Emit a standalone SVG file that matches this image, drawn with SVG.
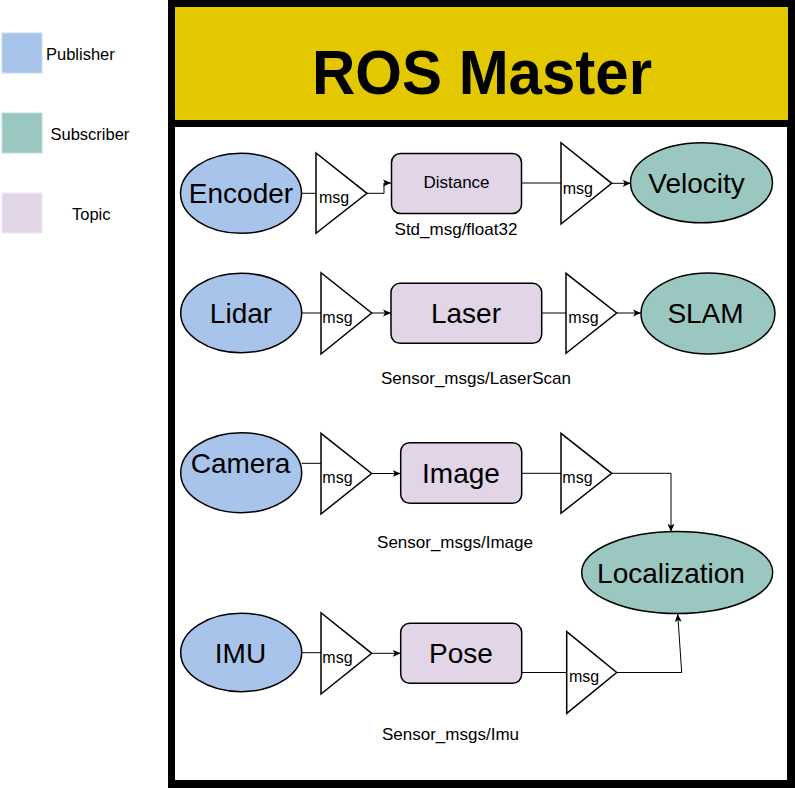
<svg xmlns="http://www.w3.org/2000/svg" width="795" height="788" viewBox="0 0 795 788">
<style>
text{font-family:"Liberation Sans",Arial,Helvetica,sans-serif;fill:#000}
.big{font-size:28px;text-anchor:middle}
.sm{font-size:17px;text-anchor:middle}
.msg{font-size:16px}
.leg{font-size:16.5px}
.pub{fill:#A9C4EB;stroke:#000;stroke-width:1.5}
.sub{fill:#9AC7BF;stroke:#000;stroke-width:1.5}
.top{fill:#E1D5E7;stroke:#000;stroke-width:1.5}
.tri{fill:#fff;stroke:#000;stroke-width:1.5}
.edge{fill:none;stroke:#000;stroke-width:1}
</style>
<defs>
<marker id="arr" markerUnits="userSpaceOnUse" markerWidth="9" markerHeight="8" refX="8" refY="4" orient="auto">
<path d="M0,0.5 L8,4 L0,7.5 L2,4 z" fill="#000"/>
</marker>
</defs>
<rect width="795" height="788" fill="#fff"/>

<g id="legend">
<g id="legend-publisher">
<rect x="2" y="33" width="40" height="40" fill="#A9C4EB" stroke="#C9DAF3" stroke-width="1"/>
<text class="leg" x="46" y="60">Publisher</text>
</g>
<g id="legend-subscriber">
<rect x="2" y="113" width="40" height="40" fill="#9AC7BF" stroke="#BFDCD6" stroke-width="1"/>
<text class="leg" x="50.5" y="140">Subscriber</text>
</g>
<g id="legend-topic">
<rect x="2" y="193" width="40" height="40" fill="#E1D5E7" stroke="#EEE6F1" stroke-width="1"/>
<text class="leg" x="72" y="220">Topic</text>
</g>
</g>

<g id="master">
<rect x="168" y="0" width="627" height="788" fill="#000"/>
<rect x="175" y="7" width="613" height="113" fill="#E3C800"/>
<rect x="175" y="127" width="612" height="653" fill="#fff"/>
<text x="482" y="94" font-size="63" font-weight="bold" text-anchor="middle" textLength="340" lengthAdjust="spacingAndGlyphs">ROS Master</text>
</g>

<g id="connectors">
<path class="edge" d="M296,193.3 H322"/>
<path class="edge" d="M367,193.3 H384 V183 H391" marker-end="url(#arr)"/>
<path class="edge" d="M521.7,183 H561"/>
<path class="edge" d="M611.7,183.3 H630.7" marker-end="url(#arr)"/>
<path class="edge" d="M301.7,313 H321"/>
<path class="edge" d="M371.7,313 H391" marker-end="url(#arr)"/>
<path class="edge" d="M541.7,313 H566"/>
<path class="edge" d="M616.7,313 H641" marker-end="url(#arr)"/>
<path class="edge" d="M301.7,463.3 H321"/>
<path class="edge" d="M371.7,473.5 H400.7" marker-end="url(#arr)"/>
<path class="edge" d="M521.7,473.3 H561"/>
<path class="edge" d="M611.7,473.3 H671 V531.7" marker-end="url(#arr)"/>
<path class="edge" d="M301.7,652.7 H321"/>
<path class="edge" d="M371.7,653.3 H400.7" marker-end="url(#arr)"/>
<path class="edge" d="M521.7,672.5 H566.7"/>
<path class="edge" d="M616.7,672.5 H681.7 L677.7,614" marker-end="url(#arr)"/>
</g>

<g id="encoder">
<ellipse class="pub" cx="241" cy="193.3" rx="60.5" ry="40"/>
<text class="big" x="241" y="203">Encoder</text>
</g>
<g id="msg-encoder">
<polygon class="tri" points="316,153 316,233.3 367,193.3"/>
<text class="msg" x="319" y="203.3">msg</text>
</g>
<g id="distance">
<rect class="top" x="391.5" y="153.5" width="130" height="60" rx="9"/>
<text class="sm" x="456.5" y="188">Distance</text>
<text class="sm" x="456" y="235">Std_msg/float32</text>
</g>
<g id="msg-distance">
<polygon class="tri" points="561,142.7 561,224 611.7,183.3"/>
<text class="msg" x="562.7" y="194">msg</text>
</g>
<g id="velocity">
<ellipse class="sub" cx="701.5" cy="182.7" rx="71" ry="40"/>
<text class="big" x="696.5" y="193.3">Velocity</text>
</g>

<g id="lidar">
<ellipse class="pub" cx="241.2" cy="313" rx="60.5" ry="39.7"/>
<text class="big" x="241" y="323.3">Lidar</text>
</g>
<g id="msg-lidar">
<polygon class="tri" points="321,272.7 321,354 371.7,313"/>
<text class="msg" x="322.3" y="323.3">msg</text>
</g>
<g id="laser">
<rect class="top" x="391" y="283.3" width="150.7" height="60" rx="9"/>
<text class="big" x="466" y="323.3">Laser</text>
<text class="sm" x="476" y="384.3">Sensor_msgs/LaserScan</text>
</g>
<g id="msg-laser">
<polygon class="tri" points="566,273.3 566,353.3 616.7,313"/>
<text class="msg" x="568.3" y="323.3">msg</text>
</g>
<g id="slam">
<ellipse class="sub" cx="708" cy="313.5" rx="67" ry="40.5"/>
<text class="big" x="705.5" y="323.3">SLAM</text>
</g>

<g id="camera">
<ellipse class="pub" cx="241.2" cy="472.7" rx="60.5" ry="40"/>
<text class="big" x="240.5" y="473.3">Camera</text>
</g>
<g id="msg-camera">
<polygon class="tri" points="321,433.3 321,514 371.7,473.5"/>
<text class="msg" x="322.3" y="482.7">msg</text>
</g>
<g id="image">
<rect class="top" x="400.7" y="442.7" width="121" height="60.6" rx="9"/>
<text class="big" x="461" y="482.7">Image</text>
<text class="sm" x="455" y="548.3">Sensor_msgs/Image</text>
</g>
<g id="msg-image">
<polygon class="tri" points="561,433.3 561,513.3 611.7,473.3"/>
<text class="msg" x="562.3" y="483.3">msg</text>
</g>
<g id="localization">
<ellipse class="sub" cx="677.2" cy="572.5" rx="95.5" ry="41"/>
<text class="big" x="671" y="583.3">Localization</text>
</g>

<g id="imu">
<ellipse class="pub" cx="241.2" cy="652.5" rx="60.5" ry="39.2"/>
<text class="big" x="240.5" y="663.3">IMU</text>
</g>
<g id="msg-imu">
<polygon class="tri" points="321,612.7 321,694 371.7,653.3"/>
<text class="msg" x="322.3" y="663.3">msg</text>
</g>
<g id="pose">
<rect class="top" x="400.7" y="623.3" width="121" height="60" rx="9"/>
<text class="big" x="461" y="663.3">Pose</text>
<text class="sm" x="450.5" y="740">Sensor_msgs/Imu</text>
</g>
<g id="msg-pose">
<polygon class="tri" points="566.7,631.7 566.7,713.3 616.7,672.5"/>
<text class="msg" x="569" y="681.7">msg</text>
</g>
</svg>
